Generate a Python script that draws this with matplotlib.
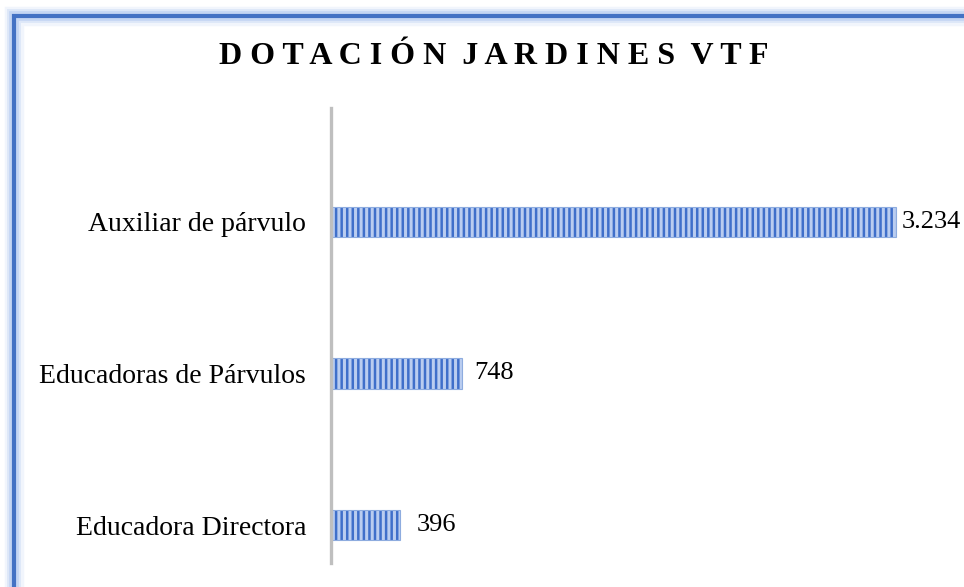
import matplotlib.pyplot as plt
from matplotlib.patches import Rectangle

categories = ["Educadora Directora", "Educadoras de Párvulos", "Auxiliar de párvulo"]
values = [396, 748, 3234]
value_labels = ["396", "748", "3.234"]
title = "DOTACIÓN JARDINES VTF"

# label offsets from bar end (points) as seen in the original
label_offsets = [12, 9, 4]

plt.rcParams["font.family"] = ["Liberation Serif", "DejaVu Serif"]
plt.rcParams["hatch.linewidth"] = 1.8

W, H = 964, 587
fig = plt.figure(figsize=(W / 100, H / 100), dpi=100)

# blue frame with soft glow (chart box is cropped on right/bottom)
for alpha, lw in [(0.12, 14), (0.2, 10), (0.3, 7), (1.0, 3)]:
    fig.add_artist(Rectangle((14 / W, -0.1), 1.2, (H - 16) / H + 0.1,
                             transform=fig.transFigure, fill=False,
                             edgecolor="#4472c4" if alpha == 1.0 else "#8fb0ea",
                             alpha=alpha, linewidth=lw))

ax = fig.add_axes([331 / W, (H - 563) / H, (W - 331) / W, (563 - 108) / H])
y = range(len(categories))
ax.barh(y, values, height=0.2, color="#bacdf0", edgecolor="#3f6fca",
        hatch="|||", linewidth=0)
ax.barh(y, values, height=0.2, fill=False, edgecolor="#8eacdf", linewidth=0.8)

ax.set_xlim(0, (W - 331) / 0.1747)
ax.set_ylim(-0.25, 2.75)
for s in ["top", "right", "bottom"]:
    ax.spines[s].set_visible(False)
ax.spines["left"].set_color("#bfbfbf")
ax.spines["left"].set_linewidth(2.4)
ax.set_xticks([])
ax.set_yticks(list(y))
ax.set_yticklabels(categories, fontsize=20)
ax.tick_params(axis="y", length=0, pad=18)

for yi, v, lab, off in zip(y, values, value_labels, label_offsets):
    ax.annotate(lab, (v, yi), xytext=(off, 0), textcoords="offset points",
                va="center", ha="left", fontsize=19, annotation_clip=False)

# letter-spaced title
fig.text(494 / W, 1 - 57 / H, "  ".join(" ".join(w) for w in title.split()),
         ha="center", va="center", fontsize=23, fontweight="bold")

fig.savefig("out.png", dpi=100)
